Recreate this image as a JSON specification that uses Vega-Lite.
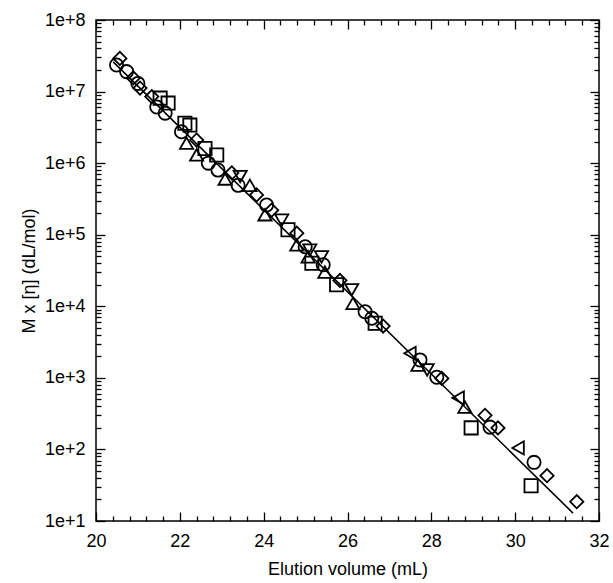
{
  "$schema": "https://vega.github.io/schema/vega-lite/v6.json",
  "width": 503,
  "height": 501,
  "autosize": {"type": "none"},
  "padding": {"left": 96, "top": 20, "right": 14, "bottom": 62},
  "background": "white",
  "config": {
    "view": {"stroke": "black", "strokeWidth": 1.5},
    "font": "Liberation Sans",
    "axis": {
      "domain": false,
      "grid": false,
      "labelFont": "Liberation Sans",
      "labelFontSize": 18,
      "labelColor": "black",
      "titleFont": "Liberation Sans",
      "titleFontSize": 18,
      "titleFontWeight": "normal",
      "titleColor": "black",
      "tickColor": "black",
      "tickWidth": 1.3
    }
  },
  "datasets": {
    "fit": [
      {"x": 20.41, "y": 26000000},
      {"x": 31.38, "y": 12.9}
    ],
    "pts": [
      {"x": 20.49, "y": 23500000, "s": "A"},
      {"x": 20.73, "y": 19000000, "s": "A"},
      {"x": 21.0, "y": 13000000, "s": "A"},
      {"x": 21.45, "y": 6100000, "s": "A"},
      {"x": 21.65, "y": 5000000, "s": "A"},
      {"x": 22.04, "y": 2750000, "s": "A"},
      {"x": 22.68, "y": 1000000, "s": "A"},
      {"x": 22.91, "y": 800000, "s": "A"},
      {"x": 23.39, "y": 490000, "s": "A"},
      {"x": 24.07, "y": 260000, "s": "A"},
      {"x": 24.99, "y": 68000, "s": "A"},
      {"x": 25.42, "y": 38000, "s": "A"},
      {"x": 26.42, "y": 8400, "s": "A"},
      {"x": 26.58, "y": 6800, "s": "A"},
      {"x": 27.73, "y": 1780, "s": "A"},
      {"x": 28.13, "y": 1020, "s": "A"},
      {"x": 29.4, "y": 205, "s": "A"},
      {"x": 30.45, "y": 66, "s": "A"},
      {"x": 20.57, "y": 29000000, "s": "B"},
      {"x": 20.89, "y": 15500000, "s": "B"},
      {"x": 21.05, "y": 11200000, "s": "B"},
      {"x": 21.33, "y": 8500000, "s": "B"},
      {"x": 22.4, "y": 2100000, "s": "B"},
      {"x": 23.24, "y": 730000, "s": "B"},
      {"x": 23.83, "y": 360000, "s": "B"},
      {"x": 24.19, "y": 220000, "s": "B"},
      {"x": 24.79, "y": 105000, "s": "B"},
      {"x": 25.82, "y": 23000, "s": "B"},
      {"x": 26.85, "y": 5300, "s": "B"},
      {"x": 28.25, "y": 980, "s": "B"},
      {"x": 29.28, "y": 300, "s": "B"},
      {"x": 29.59, "y": 200, "s": "B"},
      {"x": 30.76, "y": 43, "s": "B"},
      {"x": 31.47, "y": 18.6, "s": "B"},
      {"x": 21.53, "y": 8100000, "s": "C"},
      {"x": 21.72, "y": 6900000, "s": "C"},
      {"x": 22.12, "y": 3600000, "s": "C"},
      {"x": 22.24, "y": 3400000, "s": "C"},
      {"x": 22.6, "y": 1600000, "s": "C"},
      {"x": 22.88, "y": 1300000, "s": "C"},
      {"x": 24.58, "y": 117000, "s": "C"},
      {"x": 25.15, "y": 40000, "s": "C"},
      {"x": 25.74, "y": 20000, "s": "C"},
      {"x": 26.66, "y": 5800, "s": "C"},
      {"x": 28.95, "y": 200, "s": "C"},
      {"x": 30.38, "y": 31, "s": "C"},
      {"x": 22.16, "y": 1900000, "s": "D"},
      {"x": 22.4, "y": 1300000, "s": "D"},
      {"x": 23.08, "y": 600000, "s": "D"},
      {"x": 23.67, "y": 490000, "s": "D"},
      {"x": 24.03, "y": 190000, "s": "D"},
      {"x": 24.79, "y": 72000, "s": "D"},
      {"x": 25.06, "y": 49000, "s": "D"},
      {"x": 25.46, "y": 30000, "s": "D"},
      {"x": 26.13, "y": 11000, "s": "D"},
      {"x": 27.68, "y": 1510, "s": "D"},
      {"x": 28.8, "y": 390, "s": "D"},
      {"x": 23.44, "y": 650000, "s": "E"},
      {"x": 24.43, "y": 160000, "s": "E"},
      {"x": 25.1, "y": 61000, "s": "E"},
      {"x": 25.38, "y": 49000, "s": "E"},
      {"x": 26.1, "y": 17000, "s": "E"},
      {"x": 27.9, "y": 1290, "s": "E"},
      {"x": 27.49, "y": 2200, "s": "F"},
      {"x": 28.64, "y": 525, "s": "F"},
      {"x": 30.07, "y": 105, "s": "F"}
    ]
  },
  "layer": [
    {
      "data": {"name": "fit"},
      "mark": {"type": "line", "color": "black", "strokeWidth": 1.6, "clip": true},
      "encoding": {
        "x": {
          "field": "x", "type": "quantitative",
          "scale": {"domain": [20, 32], "nice": false, "zero": false},
          "axis": {"orient": "bottom", "values": [20, 22, 24, 26, 28, 30, 32], "tickSize": -9, "labelPadding": 20, "labelFlush": false, "title": "Elution volume  (mL)", "titlePadding": 10}
        },
        "y": {
          "field": "y", "type": "quantitative",
          "scale": {"type": "log", "domain": [10, 100000000], "nice": false},
          "axis": {"orient": "left", "values": [10, 100, 1000, 10000, 100000, 1000000, 10000000, 100000000], "tickSize": -9, "labelPadding": 20, "labelFlush": false, "labelExpr": "'1e+' + round(log(datum.value)/LN10)", "title": "M x [η]  (dL/mol)", "titlePadding": 6}
        }
      }
    },
    {
      "data": {"name": "pts"},
      "mark": {"type": "point", "filled": false, "stroke": "black", "strokeWidth": 1.8, "size": 175, "opacity": 1},
      "encoding": {
        "x": {
          "field": "x", "type": "quantitative",
          "scale": {"domain": [20, 32], "nice": false, "zero": false},
          "axis": {"orient": "top", "values": [20, 22, 24, 26, 28, 30, 32], "tickSize": -9, "labels": false, "title": null}
        },
        "y": {
          "field": "y", "type": "quantitative",
          "scale": {"type": "log", "domain": [10, 100000000], "nice": false},
          "axis": {"orient": "right", "values": [10, 100, 1000, 10000, 100000, 1000000, 10000000, 100000000], "tickSize": -9, "labels": false, "title": null}
        },
        "shape": {
          "field": "s", "type": "nominal",
          "scale": {"domain": ["A", "B", "C", "D", "E", "F"], "range": ["circle", "diamond", "square", "triangle-up", "triangle-down", "triangle-left"]},
          "legend": null
        }
      }
    },
    {
      "data": {"name": "fit"},
      "mark": {"type": "line", "opacity": 0},
      "encoding": {
        "x": {
          "field": "x", "type": "quantitative",
          "scale": {"domain": [20, 32], "nice": false, "zero": false},
          "axis": {"orient": "bottom", "values": [20.4, 20.8, 21.2, 21.6, 22.4, 22.8, 23.2, 23.6, 24.4, 24.8, 25.2, 25.6, 26.4, 26.8, 27.2, 27.6, 28.4, 28.8, 29.2, 29.6, 30.4, 30.8, 31.2, 31.6], "tickSize": -5, "labels": false, "title": null}
        },
        "y": {
          "field": "y", "type": "quantitative",
          "scale": {"type": "log", "domain": [10, 100000000], "nice": false},
          "axis": {"orient": "left", "values": [20, 30, 40, 50, 60, 70, 80, 90, 200, 300, 400, 500, 600, 700, 800, 900, 2000, 3000, 4000, 5000, 6000, 7000, 8000, 9000, 20000, 30000, 40000, 50000, 60000, 70000, 80000, 90000, 200000, 300000, 400000, 500000, 600000, 700000, 800000, 900000, 2000000, 3000000, 4000000, 5000000, 6000000, 7000000, 8000000, 9000000, 20000000, 30000000, 40000000, 50000000, 60000000, 70000000, 80000000, 90000000], "tickSize": -5, "labels": false, "title": null}
        }
      }
    },
    {
      "data": {"name": "fit"},
      "mark": {"type": "line", "opacity": 0},
      "encoding": {
        "x": {
          "field": "x", "type": "quantitative",
          "scale": {"domain": [20, 32], "nice": false, "zero": false},
          "axis": {"orient": "top", "values": [20.4, 20.8, 21.2, 21.6, 22.4, 22.8, 23.2, 23.6, 24.4, 24.8, 25.2, 25.6, 26.4, 26.8, 27.2, 27.6, 28.4, 28.8, 29.2, 29.6, 30.4, 30.8, 31.2, 31.6], "tickSize": -5, "labels": false, "title": null}
        },
        "y": {
          "field": "y", "type": "quantitative",
          "scale": {"type": "log", "domain": [10, 100000000], "nice": false},
          "axis": {"orient": "right", "values": [20, 30, 40, 50, 60, 70, 80, 90, 200, 300, 400, 500, 600, 700, 800, 900, 2000, 3000, 4000, 5000, 6000, 7000, 8000, 9000, 20000, 30000, 40000, 50000, 60000, 70000, 80000, 90000, 200000, 300000, 400000, 500000, 600000, 700000, 800000, 900000, 2000000, 3000000, 4000000, 5000000, 6000000, 7000000, 8000000, 9000000, 20000000, 30000000, 40000000, 50000000, 60000000, 70000000, 80000000, 90000000], "tickSize": -5, "labels": false, "title": null}
        }
      }
    }
  ],
  "resolve": {"axis": {"x": "independent", "y": "independent"}}
}
